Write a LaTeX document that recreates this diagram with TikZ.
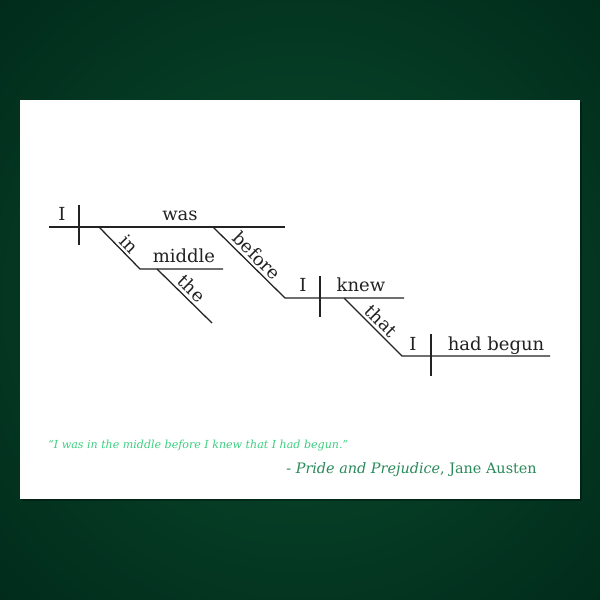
\documentclass[tikz,border=0pt]{standalone}
\usepackage{fontspec}
\setmainfont{DejaVu Serif}
\definecolor{bgin}{HTML}{0B4C2E}
\definecolor{bgout}{HTML}{002A1A}
\definecolor{ink}{HTML}{222222}
\definecolor{quote}{HTML}{3CCF80}
\definecolor{attr}{HTML}{2A8A5A}
\tikzset{
  diag/.style={draw=ink, line width=0.95pt},
  word/.style={font=\fontsize{13.5}{16}\selectfont, text=ink, inner sep=0pt},
  slword/.style={font=\fontsize{13.5}{16}\selectfont, text=ink, sloped, above, inner sep=2.5pt},
}
\begin{document}
\begin{tikzpicture}[x=0.75pt,y=-0.75pt]
\useasboundingbox (0,0) rectangle (600,600);
\shade[inner color=bgin, outer color=bgout] (-150,-150) rectangle (750,750);
\fill[black, opacity=0.3] (22,102) rectangle (582,501);
\fill[white] (20,100) rectangle (580,499);

% coordinates
\coordinate (m1) at (49,227);
\coordinate (m2) at (285,227);
\coordinate (d1t) at (79,205);
\coordinate (d1b) at (79,245);
\coordinate (in1) at (99,227);
\coordinate (in2) at (140,269);
\coordinate (mid2) at (223,269);
\coordinate (th1) at (157,269);
\coordinate (th2) at (212,323);
\coordinate (bf1) at (213,227);
\coordinate (bf2) at (285,298);
\coordinate (kn2) at (404,298);
\coordinate (d2t) at (320,276);
\coordinate (d2b) at (320,317);
\coordinate (tt1) at (344,298);
\coordinate (tt2) at (402,356);
\coordinate (hb2) at (550,356);
\coordinate (d3t) at (431,334);
\coordinate (d3b) at (431,376);

% lines
\draw[diag] (m1) -- (m2);
\draw[diag] (d1t) -- (d1b);
\draw[diag] (in1) -- (in2) -- (mid2);
\draw[diag] (th1) -- (th2);
\draw[diag] (bf1) -- (bf2) -- (kn2);
\draw[diag] (d2t) -- (d2b);
\draw[diag] (tt1) -- (tt2) -- (hb2);
\draw[diag] (d3t) -- (d3b);

% horizontal words
\node[word, anchor=base] (w1) at (62,220) {I};
\node[word, anchor=base] (w2) at (180,220) {was};
\node[word, anchor=base] (w3) at (184,262) {middle};
\node[word, anchor=base] (w4) at (303,291) {I};
\node[word, anchor=base] (w5) at (361,291) {knew};
\node[word, anchor=base] (w6) at (413,350) {I};
\node[word, anchor=base] (w7) at (496,350) {had begun};

% slanted words
\path (in1) -- (in2) node[slword, pos=0.57] (s1) {in};
\path (th1) -- (th2) node[slword, pos=0.5] (s2) {the};
\path (bf1) -- (bf2) node[slword, pos=0.51] (s3) {before};
\path (tt1) -- (tt2) node[slword, pos=0.52] (s4) {that};

% quote
\node[anchor=base west, inner sep=0pt, text=quote, font=\fontsize{8.3}{10}\selectfont\itshape] (q) at (48,448)
  {“I was in the middle before I knew that I had begun.”};
\node[anchor=base east, inner sep=0pt, text=attr, font=\fontsize{10.8}{12}\selectfont] (a) at (537,473)
  {- \textit{Pride and Prejudice}, Jane Austen};
\end{tikzpicture}
\end{document}
